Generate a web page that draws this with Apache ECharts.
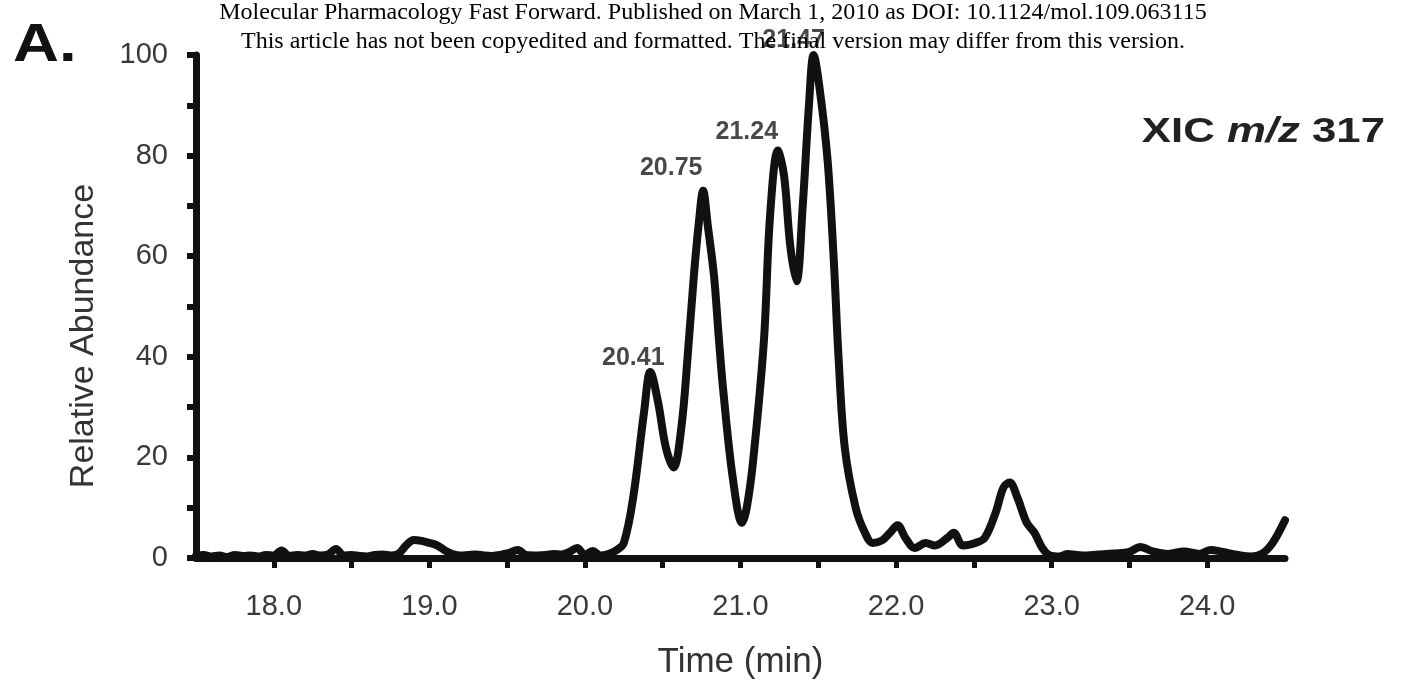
<!DOCTYPE html>
<html><head><meta charset="utf-8">
<script src="https://cdn.jsdelivr.net/npm/echarts@6/dist/echarts.min.js"></script>
<style>html,body{margin:0;padding:0;background:#fff}#c{width:1403px;height:687px}</style>
</head><body><div id="c"></div>
<script>
// Retention time (min) and relative abundance
var times = [17.5,17.55,17.6,17.65,17.7,17.75,17.8,17.85,17.9,17.95,18.0,18.05,18.1,18.15,18.2,18.25,18.3,18.35,18.4,18.45,18.5,18.55,18.6,18.65,18.7,18.75,18.8,18.85,18.9,18.95,19.0,19.05,19.1,19.15,19.2,19.25,19.3,19.35,19.4,19.45,19.5,19.57,19.62,19.7,19.75,19.8,19.85,19.9,19.95,20.0,20.05,20.1,20.15,
  20.2,20.25,20.31,20.38,20.42,20.47,20.52,20.57,20.62,20.66,20.70,20.73,20.76,20.79,20.83,20.86,20.89,20.95,21.01,21.04,21.08,21.15,21.19,21.24,21.28,21.32,21.36,21.40,21.44,21.47,21.51,21.56,21.60,21.63,21.67,21.74,21.80,21.85,21.91,21.96,22.01,22.06,22.12,22.19,22.25,22.33,22.37,22.43,22.51,22.57,22.64,22.69,22.73,22.78,22.84,22.89,22.94,22.99,
  23.05,23.1,23.2,23.3,23.4,23.5,23.57,23.65,23.75,23.85,23.95,24.02,24.1,24.2,24.28,24.35,24.42,24.5];
var abundance = [0.4,0.6,0.3,0.5,0.2,0.6,0.4,0.5,0.3,0.6,0.5,1.5,0.4,0.6,0.5,0.8,0.5,0.7,1.8,0.5,0.6,0.4,0.3,0.6,0.7,0.5,0.8,2.5,3.6,3.4,3.0,2.5,1.5,0.8,0.5,0.6,0.7,0.5,0.4,0.6,0.9,1.6,0.6,0.5,0.6,0.8,0.7,1.2,2.0,0.6,1.4,0.5,0.8,
  1.5,3,12,29,37,31,22,18,26,40,56,66,73,66,56,44,33,16,7,10,19,43,68,81,76,62,55,70,90,100,93,79,59,40,22,10,5,3,3.5,5,6.5,4,2,3,2.5,4,5,2.5,3,4,9,14,15,12,7,5,2,0.5,
  0.3,0.8,0.5,0.7,0.9,1.2,2.2,1.3,0.8,1.3,0.8,1.6,1.2,0.6,0.3,0.8,3,7.5];
// Labelled peaks
var peakTimes = [20.42,20.76,21.24,21.47];
var peakValues = [37,73,81,100];
var peakLabels = ['20.41','20.75','21.24','21.47'];
// Axis ticks and tick labels
var xTickValues = [18.0,18.5,19.0,19.5,20.0,20.5,21.0,21.5,22.0,22.5,23.0,23.5,24.0];
var xLabelValues = [18,19,20,21,22,23,24];
var xTickLabels = ['18.0','19.0','20.0','21.0','22.0','23.0','24.0'];
var yTickLabels = ['0','20','40','60','80','100'];

var line = times.map(function(t,i){return [t, abundance[i]];});
var peakOffsets = [[-17,0],[-32,0],[-31,0],[-20,0]];
var peakDistances = [1,10,6,2];
var peaks = peakTimes.map(function(t,i){
  return {value:[t, peakValues[i]], label:{formatter:peakLabels[i], offset:peakOffsets[i], distance:peakDistances[i]}};
});

var chart = echarts.init(document.getElementById('c'), null, {renderer:'canvas'});
chart.setOption({
  animation:false,
  backgroundColor:'#fff',
  grid:{left:196, right:118, top:55, bottom:129},
  xAxis:{
    type:'value', min:17.5, max:24.5,
    name:'Time (min)', nameLocation:'middle', nameGap:87,
    nameTextStyle:{fontFamily:'Liberation Sans', fontSize:35, color:'#333'},
    axisLine:{lineStyle:{color:'#111', width:7}},
    axisTick:{length:10, customValues:xTickValues, lineStyle:{color:'#111', width:5}},
    axisLabel:{margin:34, fontFamily:'Liberation Sans', fontSize:29, color:'#3a3a3a',
      customValues:xLabelValues,
      formatter:function(v){var i=xLabelValues.indexOf(Math.round(v)); return i>=0?xTickLabels[i]:'';}},
    splitLine:{show:false}
  },
  yAxis:{
    type:'value', min:0, max:100, interval:10,
    axisLine:{lineStyle:{color:'#111', width:7}},
    axisTick:{length:9, lineStyle:{color:'#111', width:6}},
    axisLabel:{margin:28, fontFamily:'Liberation Sans', fontSize:29, color:'#3a3a3a',
      formatter:function(v){var s=String(Math.round(v)); return yTickLabels.indexOf(s)>=0?s:'';}},
    splitLine:{show:false}
  },
  series:[
    {type:'line', data:line, symbol:'none', smooth:0.35, z:3,
     lineStyle:{color:'#111', width:8, cap:'round', join:'round'}},
    {type:'scatter', data:peaks, symbolSize:0, z:4,
     label:{show:true, position:'top', fontFamily:'Liberation Sans', fontWeight:'bold', fontSize:25, color:'#1a1a1a'}}
  ],
  graphic:[
    {type:'text', x:84, y:336, rotation:Math.PI/2, z:10, style:{text:'Relative Abundance', font:'34px "Liberation Sans"', fill:'#333', textAlign:'center', textVerticalAlign:'middle'}},
    {type:'text', x:13, y:20, scaleX:1.2, z:10, style:{text:'A.', font:'bold 53px "Liberation Sans"', fill:'#111', textVerticalAlign:'top'}},
    {type:'text', x:713, y:1, z:20, style:{text:'Molecular Pharmacology Fast Forward. Published on March 1, 2010 as DOI: 10.1124/mol.109.063115', font:'24px "Liberation Serif"', fill:'#000', textAlign:'center', textVerticalAlign:'top'}},
    {type:'text', x:713, y:30, z:20, style:{text:'This article has not been copyedited and formatted. The final version may differ from this version.', font:'24px "Liberation Serif"', fill:'#000', textAlign:'center', textVerticalAlign:'top'}},
    {type:'text', x:1385, y:115, scaleX:1.25, z:10, style:{
      text:'{b|XIC }{i|m/z}{b| 317}', textAlign:'right', textVerticalAlign:'top',
      rich:{b:{font:'bold 35px "Liberation Sans"', fill:'#222'}, i:{font:'italic bold 35px "Liberation Sans"', fill:'#222'}}}}
  ]
});
</script></body></html>
